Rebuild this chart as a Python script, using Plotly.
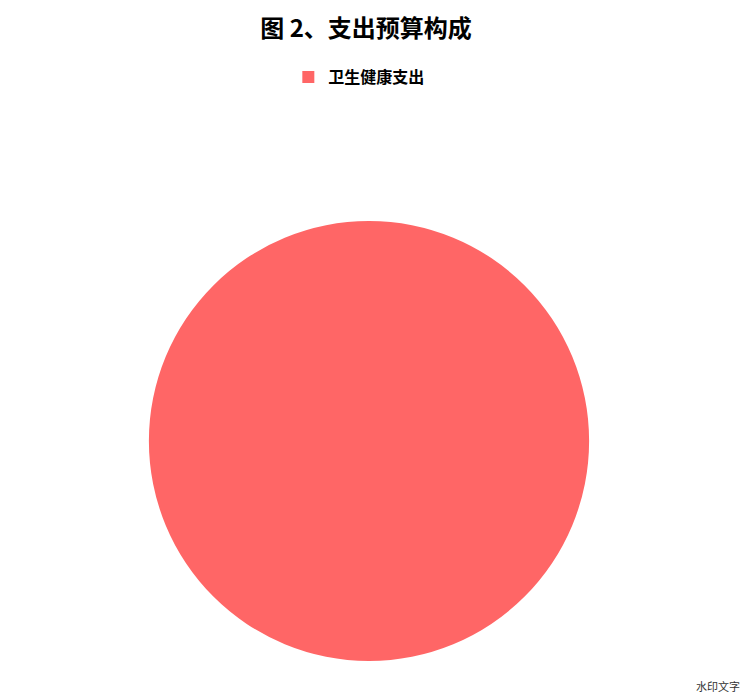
import plotly.graph_objects as go

# 支出预算构成
labels = ['卫生健康支出']
values = [100]
colors = ['#FF6666']

title_text = '图 2、支出预算构成'
watermark = '水印文字'

fig = go.Figure(go.Pie(
    labels=labels,
    values=values,
    marker=dict(colors=colors, line=dict(width=0)),
    textinfo='none',
    hoverinfo='label+percent',
    sort=False,
    showlegend=True,
))

fig.update_layout(
    width=748,
    height=697,
    paper_bgcolor='white',
    plot_bgcolor='white',
    font=dict(family='Noto Sans CJK SC', color='#000000'),
    margin=dict(l=0, r=26, t=213, b=44),
    title=dict(
        text='<b>' + title_text + '</b>',
        x=0.4786, xanchor='center',
        yref='container', y=0.971, yanchor='middle',
        font=dict(size=24, color='#000000'),
    ),
    legend=dict(
        orientation='h',
        x=0.4866, xanchor='center',
        yref='container', y=0.901, yanchor='middle',
        font=dict(size=16, color='#000000', weight='bold'),
        bgcolor='rgba(0,0,0,0)',
        itemwidth=30,
    ),
    annotations=[dict(
        text=watermark,
        xref='paper', yref='paper',
        x=1.0166, y=-0.057, xanchor='right', yanchor='middle',
        showarrow=False,
        font=dict(size=11, color='#333333'),
    )],
)

fig.write_html("out.html")
